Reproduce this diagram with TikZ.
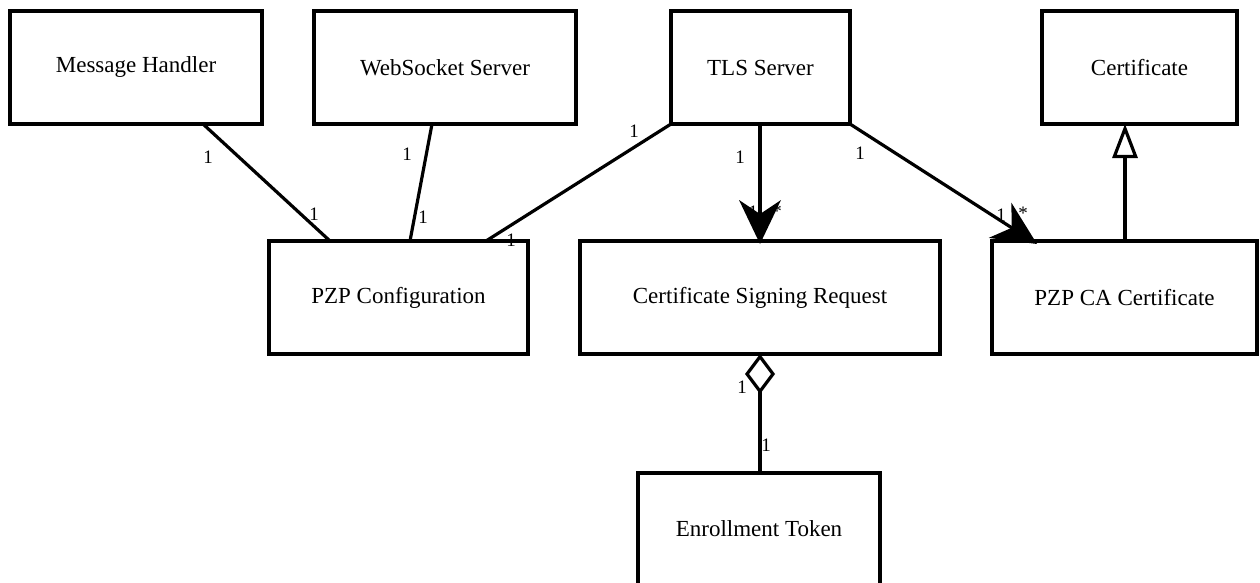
\documentclass[tikz,border=0pt]{standalone}
\usepackage{fontspec}
\setmainfont{Liberation Serif}
\usetikzlibrary{arrows.meta}
\begin{document}
\begin{tikzpicture}[x=1pt,y=-1pt,
  cls/.style={draw,line width=3.2pt,inner sep=0pt,font=\fontsize{23}{27}\selectfont},
  conn/.style={line width=3.2pt},
  mult/.style={font=\fontsize{19}{22}\selectfont,inner sep=0pt},
  nav/.style={-{Stealth[length=44pt,width=42pt,inset=14pt,line width=0pt]}},
  gen/.style={-{Triangle[open,length=34pt,width=25pt,line width=3.2pt]}},
  agg/.style={{Diamond[open,length=40pt,width=30pt,line width=3.2pt]}-}]
\useasboundingbox (0,0) rectangle (1260,583);
\node[cls,minimum width=252pt,minimum height=113pt] (mh) at (136,67.5) {Message Handler};
\node[cls,minimum width=262pt,minimum height=113pt] (ws) at (445,67.5) {WebSocket Server};
\node[cls,minimum width=179pt,minimum height=113pt] (tls) at (760.5,67.5) {TLS Server};
\node[cls,minimum width=195pt,minimum height=113pt] (cert) at (1139.5,67.5) {Certificate};
\node[cls,minimum width=259pt,minimum height=113pt] (pzp) at (398.5,297.5) {PZP Configuration};
\node[cls,minimum width=360pt,minimum height=113pt] (csr) at (760,297.5) {Certificate Signing Request};
\node[cls,minimum width=265pt,minimum height=113pt] (ca) at (1124.5,297.5) {PZP CA Certificate};
\node[cls,minimum width=242pt,minimum height=112pt] (et) at (759,529) {Enrollment Token};
% connectors
\coordinate (mhA) at (203,124); \coordinate (pzpA) at (330,241);
\coordinate (wsA) at (432,124); \coordinate (pzpB) at (410,241);
\coordinate (tlsA) at (671,124); \coordinate (pzpC) at (486,241);
\coordinate (tlsB) at (760,124); \coordinate (csrA) at (760,244);
\coordinate (tlsC) at (850,124); \coordinate (caA) at (1037,244);
\coordinate (caB) at (1125,241); \coordinate (certA) at (1125,124);
\coordinate (csrB) at (760,354); \coordinate (etA) at (760,473);
\draw[conn] (mhA) -- (pzpA);
\draw[conn] (wsA) -- (pzpB);
\draw[conn] (tlsA) -- (pzpC);
\draw[conn,nav] (tlsB) -- (csrA);
\draw[conn,nav] (tlsC) -- (caA);
\draw[conn,gen] (caB) -- (certA);
\draw[conn,agg] (csrB) -- (etA);
% multiplicities
\node[mult] (m1) at (208,157) {1};
\node[mult] (m2) at (314,214) {1};
\node[mult] (m3) at (407,154) {1};
\node[mult] (m4) at (423,217) {1};
\node[mult] (m5) at (634,131) {1};
\node[mult] (m6) at (511,240) {1};
\node[mult] (m7) at (740,157) {1};
\node[mult] (m8) at (753,212) {1};
\node[mult] (m9) at (777,211) {*};
\node[mult] (m10) at (860,153) {1};
\node[mult] (m11) at (1001,215) {1};
\node[mult] (m12) at (1023,213) {*};
\node[mult] (m13) at (742,387) {1};
\node[mult] (m14) at (766,445) {1};
\end{tikzpicture}
\end{document}
